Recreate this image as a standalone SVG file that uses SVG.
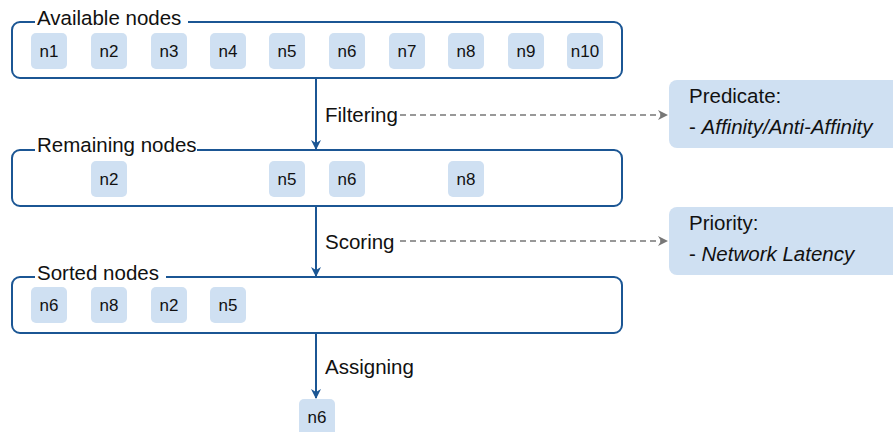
<svg xmlns="http://www.w3.org/2000/svg" width="893" height="432" viewBox="0 0 893 432">
<style>
.frame{fill:none;stroke:#1b5694;stroke-width:2}
.title{font-family:"Liberation Sans",Arial,sans-serif;font-size:20.5px;fill:#111}
.gap{fill:#fff}
.node rect{fill:#cfe0f2}
.node text{font-family:"Liberation Sans",Arial,sans-serif;font-size:17px;fill:#111;text-anchor:middle}
.flow{stroke:#1b5694;stroke-width:2;fill:none}
.dash{stroke:#777;stroke-width:1.5;stroke-dasharray:6 4;fill:none}
.lbl{font-family:"Liberation Sans",Arial,sans-serif;font-size:20.5px;fill:#111}
.note rect{fill:#cfe0f2}
.note text{font-family:"Liberation Sans",Arial,sans-serif;font-size:20.5px;fill:#111}
.it{font-style:italic}
</style>
<defs>
<marker id="ag" viewBox="0 0 10 10" refX="9" refY="5" markerWidth="11" markerHeight="10" orient="auto" markerUnits="userSpaceOnUse">
<path d="M0,0 L10,5 L0,10 L3,5 z" fill="#777"/>
</marker>
<marker id="abl" viewBox="0 0 10 10" refX="9" refY="5" markerWidth="11" markerHeight="10" orient="auto" markerUnits="userSpaceOnUse">
<path d="M0,0 L10,5 L0,10 L3,5 z" fill="#1b5694"/>
</marker>
</defs>

<g id="available">
<rect class="frame" x="12" y="22" width="610" height="56" rx="8"/>
<rect class="gap" x="35" y="10" width="153" height="16"/>
<text class="title" x="37" y="25">Available nodes</text>
</g>
<g id="remaining">
<rect class="frame" x="12" y="150" width="610" height="56" rx="8"/>
<rect class="gap" x="35" y="138" width="162" height="16"/>
<text class="title" x="37" y="152">Remaining nodes</text>
</g>
<g id="sorted">
<rect class="frame" x="12" y="277" width="610" height="56" rx="8"/>
<rect class="gap" x="35" y="265" width="131" height="16"/>
<text class="title" x="37" y="280">Sorted nodes</text>
</g>

<g id="a-n1" class="node"><rect x="31" y="33" width="36" height="36" rx="5"/><text x="49" y="57">n1</text></g>
<g id="a-n2" class="node"><rect x="91" y="33" width="36" height="36" rx="5"/><text x="109" y="57">n2</text></g>
<g id="a-n3" class="node"><rect x="151" y="33" width="36" height="36" rx="5"/><text x="169" y="57">n3</text></g>
<g id="a-n4" class="node"><rect x="210" y="33" width="36" height="36" rx="5"/><text x="228" y="57">n4</text></g>
<g id="a-n5" class="node"><rect x="269" y="33" width="36" height="36" rx="5"/><text x="287" y="57">n5</text></g>
<g id="a-n6" class="node"><rect x="329" y="33" width="36" height="36" rx="5"/><text x="347" y="57">n6</text></g>
<g id="a-n7" class="node"><rect x="389" y="33" width="36" height="36" rx="5"/><text x="407" y="57">n7</text></g>
<g id="a-n8" class="node"><rect x="448" y="33" width="36" height="36" rx="5"/><text x="466" y="57">n8</text></g>
<g id="a-n9" class="node"><rect x="508" y="33" width="36" height="36" rx="5"/><text x="526" y="57">n9</text></g>
<g id="a-n10" class="node"><rect x="567" y="33" width="36" height="36" rx="5"/><text x="585" y="57">n10</text></g>

<g id="r-n2" class="node"><rect x="91" y="161" width="36" height="36" rx="5"/><text x="109" y="185">n2</text></g>
<g id="r-n5" class="node"><rect x="269" y="161" width="36" height="36" rx="5"/><text x="287" y="185">n5</text></g>
<g id="r-n6" class="node"><rect x="329" y="161" width="36" height="36" rx="5"/><text x="347" y="185">n6</text></g>
<g id="r-n8" class="node"><rect x="448" y="161" width="36" height="36" rx="5"/><text x="466" y="185">n8</text></g>

<g id="s-n6" class="node"><rect x="31" y="287" width="36" height="36" rx="5"/><text x="49" y="311">n6</text></g>
<g id="s-n8" class="node"><rect x="91" y="287" width="36" height="36" rx="5"/><text x="109" y="311">n8</text></g>
<g id="s-n2" class="node"><rect x="151" y="287" width="36" height="36" rx="5"/><text x="169" y="311">n2</text></g>
<g id="s-n5" class="node"><rect x="210" y="287" width="36" height="36" rx="5"/><text x="228" y="311">n5</text></g>

<g id="result-n6" class="node"><rect x="299" y="399" width="36" height="40" rx="5"/><text x="317" y="423">n6</text></g>

<g id="predicate" class="note">
<rect x="669" y="80" width="240" height="68" rx="8"/>
<text x="689" y="103">Predicate:</text>
<text x="689" y="134"><tspan>- </tspan><tspan class="it">Affinity/Anti-Affinity</tspan></text>
</g>
<g id="priority" class="note">
<rect x="669" y="207" width="240" height="68" rx="8"/>
<text x="689" y="230">Priority:</text>
<text x="689" y="261"><tspan>- </tspan><tspan class="it">Network Latency</tspan></text>
</g>

<g id="connectors">
<path class="flow" d="M316,78 V149" marker-end="url(#abl)"/>
<path class="flow" d="M316,206 V276" marker-end="url(#abl)"/>
<path class="flow" d="M316,333 V398" marker-end="url(#abl)"/>
<path class="dash" d="M400,115 H667" marker-end="url(#ag)"/>
<path class="dash" d="M400,241 H667" marker-end="url(#ag)"/>
<text class="lbl" x="325" y="122">Filtering</text>
<text class="lbl" x="325" y="249">Scoring</text>
<text class="lbl" x="325" y="374">Assigning</text>
</g>
</svg>
